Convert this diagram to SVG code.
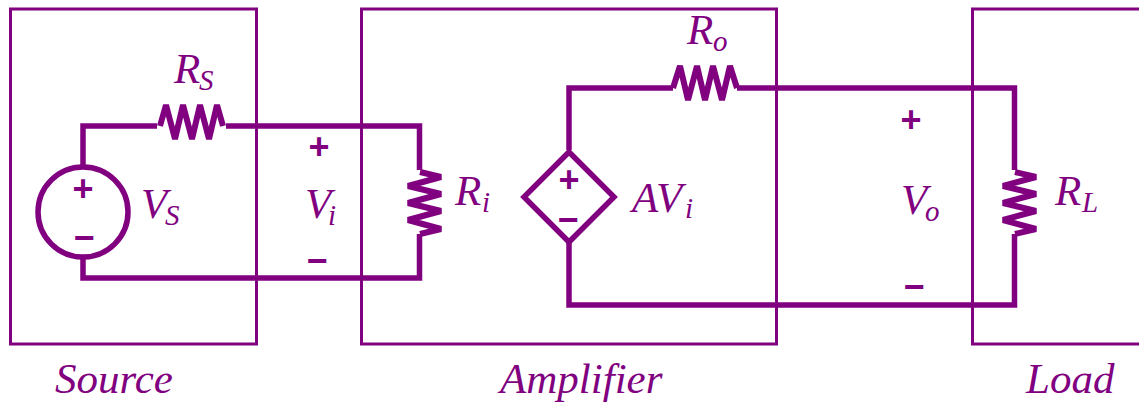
<svg xmlns="http://www.w3.org/2000/svg" width="1139" height="403" viewBox="0 0 1139 403">
<style>
.box{fill:none;stroke:#800080;stroke-width:3}
.w{fill:none;stroke:#800080;stroke-width:5.5;stroke-linejoin:miter}
.r{fill:none;stroke:#800080;stroke-width:6;stroke-linejoin:bevel}
text{font-family:"Liberation Serif","Times New Roman",serif;font-style:italic;font-size:43px;fill:#800080}
.s{font-size:29px}
.p{font-family:"Liberation Sans",Arial,sans-serif;font-style:normal;font-weight:bold;font-size:36px;text-anchor:middle}
</style>
<rect width="1139" height="403" fill="#fff"/>
<g id="source-box"><rect class="box" x="10.5" y="9" width="246" height="335"/><text x="55" y="393">Source</text></g>
<g id="amplifier-box"><rect class="box" x="361.5" y="9" width="415" height="335"/><text x="500" y="393">Amplifier</text></g>
<g id="load-box"><path class="box" d="M1139 9H972.500V344H1139"/><text x="1026" y="393">Load</text></g>
<g id="connectors">
<path class="w" d="M83 165V126H157M226 126H419.500V170M419.500 234V278H83V258"/>
<path class="w" d="M569 150V88H673M737 88H1014.500V170M1014.500 234V305H569V243"/>
</g>
<g id="Vs"><circle class="w" cx="83" cy="212" r="45"/><text class="p" x="83" y="201">+</text><text class="p" x="84" y="250">−</text><text x="141" y="218">V</text><text class="s" x="165" y="225">S</text></g>
<g id="Rs"><path class="r" d="M160 126L166 105L175 139L183 105L192 139L200 105L209 139L217 105L223 126"/><text x="174" y="83">R</text><text class="s" x="199" y="90">S</text></g>
<g id="Vi"><text class="p" x="319" y="159">+</text><text class="p" x="317" y="273">−</text><text x="305" y="218">V</text><text class="s" x="328" y="225">i</text></g>
<g id="Ri"><path class="r" d="M420 172L441 177L408 186L441 194L408 203L441 211L408 220L441 229L420 234"/><text x="455" y="205">R</text><text class="s" x="482" y="212">i</text></g>
<g id="AVi"><path class="w" d="M569 152L614 197L569 242L524 197Z"/><text class="p" x="569" y="192">+</text><text class="p" x="568" y="232">−</text><text x="632" y="212">AV</text><text class="s" x="685" y="218">i</text></g>
<g id="Ro"><path class="r" d="M673 88L680 66L688 100L697 66L705 100L713 66L722 100L730 66L737 88"/><text x="687" y="44">R</text><text class="s" x="713" y="51">o</text></g>
<g id="Vo"><text class="p" x="911" y="132">+</text><text class="p" x="914" y="299">−</text><text x="901" y="214">V</text><text class="s" x="925" y="221">o</text></g>
<g id="RL"><path class="r" d="M1015 172L1036 177L1003 186L1036 194L1003 203L1036 211L1003 220L1036 229L1015 234"/><text x="1055" y="205">R</text><text class="s" x="1082" y="212">L</text></g>
</svg>
